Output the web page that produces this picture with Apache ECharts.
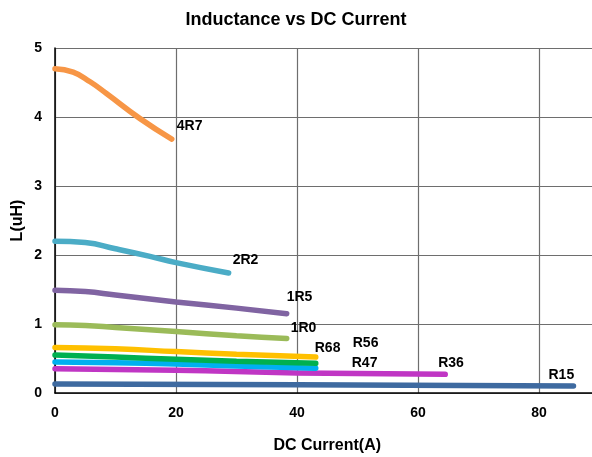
<!DOCTYPE html>
<html>
<head>
<meta charset="utf-8">
<style>
  html, body { margin: 0; padding: 0; background: #fff; }
  #chart { width: 592px; height: 457px; }
</style>
<script src="https://cdn.jsdelivr.net/npm/echarts@6/dist/echarts.min.js"></script>
</head>
<body>
<div id="chart"></div>
<script>
// parts and their curves, [current (A), inductance (uH)]
const names = ['4R7', '2R2', '1R5', '1R0', 'R68', 'R56', 'R47', 'R36', 'R15']
const l4R7 = [[0, 4.70], [3, 4.65], [5.8, 4.51], [8.5, 4.34], [14, 3.98], [19.3, 3.68]]
const l2R2 = [[0, 2.20], [5, 2.18], [10, 2.09], [15.7, 1.98], [20, 1.89], [28.7, 1.74]]
const l1R5 = [[0, 1.49], [5, 1.47], [10, 1.42], [20, 1.32], [30, 1.23], [38.3, 1.15]]
const l1R0 = [[0, 0.99], [5, 0.98], [10, 0.95], [20, 0.89], [30, 0.83], [38.3, 0.79]]
const lR68 = [[0, 0.66], [10, 0.64], [20, 0.60], [30, 0.56], [43.1, 0.52]]
const lR56 = [[0, 0.55], [10, 0.52], [20, 0.49], [30, 0.46], [43.1, 0.43]]
const lR47 = [[0, 0.45], [10, 0.44], [20, 0.42], [30, 0.39], [43.1, 0.36]]
const lR36 = [[0, 0.35], [20, 0.33], [40, 0.29], [64.5, 0.27]]
const lR15 = [[0, 0.13], [40, 0.12], [85.7, 0.10]]
const curves = [l4R7, l2R2, l1R5, l1R0, lR68, lR56, lR47, lR36, lR15]

const colors = ['#F79646', '#4BACC6', '#8064A2', '#9BBB59', '#FFC000', '#00B050', '#00B0F0', '#C036C4', '#3E6AA0']
// label nudges from each curve's end point
const labelOffsets = [[-3, -13], [-4, -13], [-8, -17], [-4, -10], [-9, -9], [29, -20], [28, -5], [-15, -11], [-33, -11]]

const font = 'Liberation Sans, Arial, sans-serif'
const chart = echarts.init(document.getElementById('chart'))

chart.setOption({
  animation: false,
  title: {
    text: 'Inductance vs DC Current',
    left: 'center',
    top: 6,
    textStyle: { fontFamily: font, fontSize: 18, fontWeight: 'bold', color: '#000' }
  },
  grid: {
    left: 55,
    top: 48,
    width: 544.5,
    height: 345,
    outerBoundsMode: 'none'
  },
  xAxis: {
    type: 'value',
    min: 0,
    max: 90,
    interval: 20,
    name: 'DC Current(A)',
    nameLocation: 'middle',
    nameGap: 45,
    nameMoveOverlap: false,
    nameTextStyle: { fontFamily: font, fontSize: 16, fontWeight: 'bold', color: '#000' },
    axisLine: { lineStyle: { color: '#000', width: 1.5 } },
    axisTick: { show: false },
    axisLabel: {
      margin: 13,
      showMaxLabel: false,
      fontFamily: font, fontSize: 14, fontWeight: 'bold', color: '#000'
    },
    splitLine: { lineStyle: { color: '#6e6e6e', width: 1.2 } }
  },
  yAxis: {
    type: 'value',
    min: 0,
    max: 5,
    interval: 1,
    name: 'L(uH)',
    nameLocation: 'middle',
    nameGap: 29,
    nameMoveOverlap: false,
    nameTextStyle: { fontFamily: font, fontSize: 16, fontWeight: 'bold', color: '#000' },
    axisLine: { show: true, lineStyle: { color: '#000', width: 1.5 } },
    axisTick: { show: false },
    axisLabel: { margin: 13, fontFamily: font, fontSize: 14, fontWeight: 'bold', color: '#000' },
    splitLine: { lineStyle: { color: '#6e6e6e', width: 1.2 } }
  },
  series: curves.map((data, i) => ({
    name: names[i],
    type: 'line',
    data: data,
    smooth: true,
    symbol: 'none',
    color: colors[i],
    lineStyle: { width: 5.5, cap: 'round', color: colors[i] },
    endLabel: {
      show: true,
      formatter: names[i],
      offset: labelOffsets[i],
      fontFamily: font,
      fontSize: 14,
      fontWeight: 'bold',
      color: '#000'
    },
    z: 10 - i
  }))
})
</script>
</body>
</html>
